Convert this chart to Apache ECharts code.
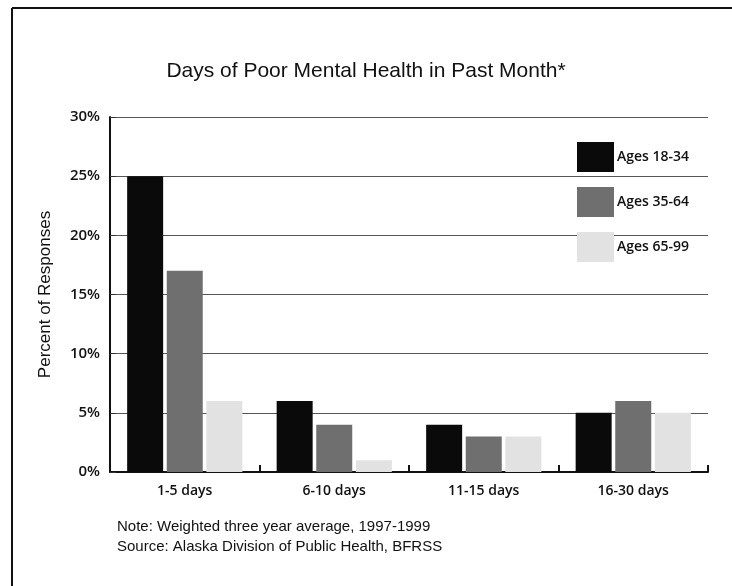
<!DOCTYPE html>
<html>
<head>
<meta charset="utf-8">
<script src="https://cdn.jsdelivr.net/npm/echarts@6/dist/echarts.min.js"></script>
<style>
html, body { margin: 0; padding: 0; background: #fff; }
#main { width: 732px; height: 586px; }
</style>
</head>
<body>
<div id="main"></div>
<script>
var categories = ['1-5 days', '6-10 days', '11-15 days', '16-30 days'];
var seriesNames = ['Ages 18-34', 'Ages 35-64', 'Ages 65-99'];
var ages18to34 = [25, 6, 4, 5];
var ages35to64 = [17, 4, 3, 6];
var ages65to99 = [6, 1, 3, 5];
var yTicks = [0, 5, 10, 15, 20, 25, 30];

var myChart = echarts.init(document.getElementById('main'));

var labelFont = '"Open Sans", "DejaVu Sans", sans-serif';

var option = {
	backgroundColor: '#fff',
	animation: false,
	title: {
		text: 'Days of Poor Mental Health in Past Month*',
		left: 'center',
		top: 56,
		textStyle: {
			fontFamily: '"Liberation Sans", Arial, sans-serif',
			fontSize: 21,
			fontWeight: 'normal',
			color: '#111'
		}
	},
	legend: {
		orient: 'vertical',
		left: 572,
		top: 137,
		itemWidth: 37,
		itemHeight: 30,
		itemGap: 15,
		icon: 'rect',
		data: seriesNames,
		textStyle: {
			fontFamily: labelFont,
			fontSize: 14,
			fontWeight: 600,
			color: '#111',
			padding: [0, 0, 0, -2]
		}
	},
	grid: {
		left: 110,
		right: 24,
		top: 117,
		bottom: 114,
		containLabel: false
	},
	xAxis: {
		type: 'category',
		data: categories,
		axisLine: { lineStyle: { color: '#111', width: 2 } },
		axisTick: { show: true, inside: true, length: 7, lineStyle: { color: '#111', width: 2 } },
		axisLabel: {
			fontFamily: labelFont,
			fontSize: 14,
			fontWeight: 600,
			color: '#111',
			margin: 12
		}
	},
	yAxis: {
		type: 'value',
		min: yTicks[0],
		max: yTicks[yTicks.length - 1],
		interval: 5,
		name: 'Percent of Responses',
		nameLocation: 'middle',
		nameGap: 56,
		nameTextStyle: {
			fontFamily: '"Liberation Sans", Arial, sans-serif',
			fontSize: 17,
			color: '#111'
		},
		axisLine: { show: true, lineStyle: { color: '#111', width: 2 } },
		axisTick: { show: true, inside: true, length: 6, lineStyle: { color: '#333' } },
		splitLine: { lineStyle: { color: '#555', width: 1 } },
		axisLabel: {
			fontFamily: labelFont,
			fontSize: 15,
			fontWeight: 600,
			color: '#111',
			margin: 10,
			formatter: '{value}%'
		}
	},
	series: [
		{
			name: seriesNames[0],
			type: 'bar',
			data: ages18to34,
			barWidth: 36,
			barGap: '10%',
			itemStyle: { color: '#0a0a0a' }
		},
		{
			name: seriesNames[1],
			type: 'bar',
			data: ages35to64,
			barWidth: 36,
			barGap: '10%',
			itemStyle: { color: '#6f6f6f' }
		},
		{
			name: seriesNames[2],
			type: 'bar',
			data: ages65to99,
			barWidth: 36,
			barGap: '10%',
			itemStyle: { color: '#e2e2e2' }
		}
	],
	graphic: [
		{
			type: 'line',
			shape: { x1: 12, y1: 8, x2: 732, y2: 8 },
			style: { stroke: '#111', lineWidth: 2 }
		},
		{
			type: 'line',
			shape: { x1: 12, y1: 8, x2: 12, y2: 586 },
			style: { stroke: '#111', lineWidth: 2 }
		},
		{
			type: 'text',
			left: 117,
			top: 517,
			style: {
				text: 'Note: Weighted three year average, 1997-1999\nSource: Alaska Division of Public Health, BFRSS',
				font: '15px "Liberation Sans", Arial, sans-serif',
				lineHeight: 20,
				fill: '#111'
			}
		}
	]
};

myChart.setOption(option);
</script>
</body>
</html>
